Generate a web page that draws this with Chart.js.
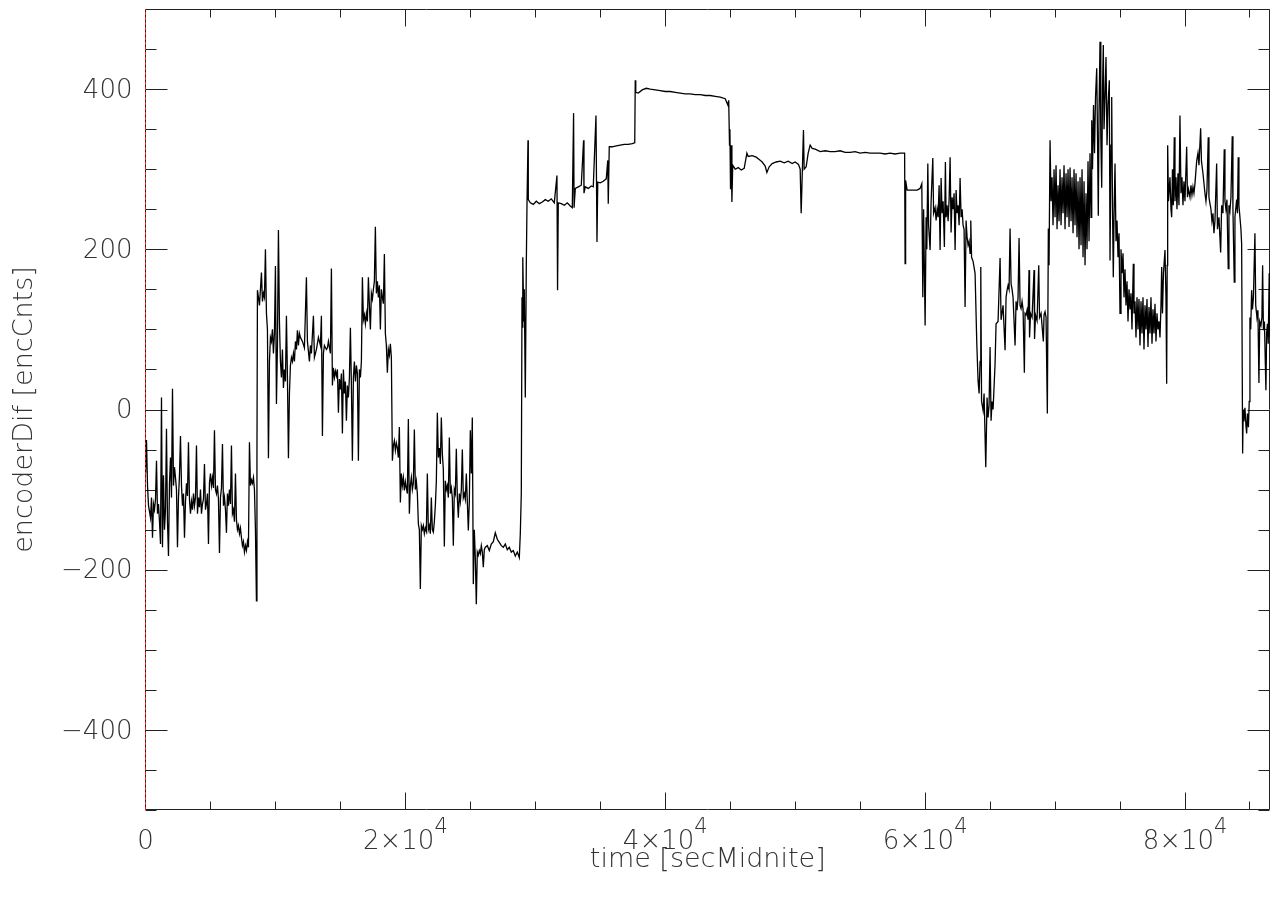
<!DOCTYPE html>
<html>
<head>
<meta charset="utf-8">
<script src="https://cdn.jsdelivr.net/npm/chart.js@4.4.0/dist/chart.umd.min.js"></script>
<style>
  html, body { margin: 0; padding: 0; background: #fff; }
  #wrap { width: 1276px; height: 898px; }
</style>
</head>
<body>
<div id="wrap"><canvas id="encChart" width="1276" height="898"></canvas></div>
<script>
// ─── DATA ─────────────────────────────────────────────────────────────────
// time of day in seconds after midnight
const timeSec = [
  0,77,154,231,385,462,538,615,692,769,
  846,923,1000,1077,1154,1230,1307,1384,1461,1538,
  1615,1692,1769,1846,1923,2000,2077,2154,2230,2307,
  2384,2461,2538,2615,2692,2769,2846,2923,3000,3077,
  3154,3230,3307,3384,3461,3538,3615,3692,3769,3846,
  3923,4000,4077,4154,4231,4307,4384,4461,4538,4615,
  4692,4769,4846,4923,5000,5077,5154,5230,5307,5384,
  5461,5538,5615,5692,5769,5846,5923,6000,6077,6154,
  6230,6307,6384,6461,6538,6615,6692,6769,6846,6923,
  7000,7077,7154,7230,7307,7384,7461,7538,7615,7692,
  7769,7846,7923,8000,8077,8154,8230,8307,8384,8461,
  8538,8577,8615,8692,8769,8846,8923,9000,9077,9154,
  9230,9307,9384,9461,9538,9615,9692,9769,9846,9923,
  10000,10077,10154,10230,10307,10384,10461,10538,10615,10692,
  10769,10846,10923,11000,11077,11153,11230,11307,11384,11461,
  11538,11615,11692,11769,11846,11923,12077,12230,12384,12461,
  12615,12692,12769,12923,13000,13154,13307,13461,13538,13615,
  13692,13769,13923,14000,14077,14230,14307,14384,14461,14538,
  14615,14692,14769,14846,14923,15000,15076,15153,15230,15307,
  15384,15461,15538,15615,15692,15769,15846,15922,15999,16076,
  16153,16230,16307,16384,16461,16538,16615,16692,16769,16845,
  16922,16999,17076,17153,17230,17307,17384,17461,17538,17614,
  17691,17768,17845,17922,17999,18076,18153,18230,18307,18384,
  18460,18537,18614,18691,18768,18845,18922,18999,19076,19153,
  19230,19306,19383,19460,19537,19614,19691,19768,19845,19922,
  19999,20076,20152,20229,20306,20383,20460,20537,20614,20691,
  20768,20845,20922,20999,21075,21152,21229,21306,21383,21460,
  21537,21614,21691,21768,21845,21921,21998,22075,22152,22229,
  22306,22383,22460,22537,22614,22691,22767,22844,22921,22998,
  23075,23152,23229,23306,23383,23460,23537,23613,23690,23767,
  23844,23921,23998,24075,24152,24229,24306,24383,24459,24536,
  24613,24690,24767,24844,24921,24998,25075,25151,25228,25305,
  25382,25459,25536,25613,25690,25767,25844,25921,25997,26074,
  26151,26305,26459,26613,26767,26920,27074,27228,27382,27536,
  27690,27843,27997,28151,28305,28459,28613,28767,28844,28921,
  28975,29020,29050,29114,29152,29229,29306,29360,29437,29460,
  29614,29845,30076,30306,30537,30768,30998,31229,31460,31665,
  31711,31768,31999,32229,32460,32691,32845,32945,32983,33076,
  33306,33537,33714,33745,33845,34076,34306,34460,34668,34745,
  34806,34999,35229,35460,35575,35614,35691,35922,36229,36537,
  36844,37152,37460,37652,37691,37729,37921,38229,38537,38845,
  39229,39614,39999,40383,40768,41152,41537,41921,42306,42691,
  43075,43460,43845,44229,44614,44822,44883,44945,44975,45022,
  45075,45129,45191,45383,45614,45845,46075,46283,46383,46690,
  46998,47229,47460,47690,47820,47998,48229,48536,48844,49152,
  49459,49767,49998,50252,50383,50459,50536,50636,50690,50844,
  50998,51152,51306,51536,51921,52306,52690,53075,53459,53844,
  54229,54613,54998,55383,55767,56152,56536,56921,57305,57690,
  58075,58421,58459,58498,58613,58998,59382,59613,59744,59821,
  59882,59998,60075,60129,60206,60267,60382,60459,60590,60651,
  60767,60844,60921,60998,61075,61151,61228,61305,61382,61482,
  61559,61613,61690,61767,61844,61921,61997,62074,62151,62228,
  62305,62382,62459,62536,62613,62690,62767,62844,62920,62997,
  63074,63151,63228,63305,63382,63459,63513,63574,63690,63843,
  63974,64074,64151,64228,64282,64343,64459,64536,64666,64766,
  64843,64920,64997,65074,65151,65228,65382,65459,65613,65767,
  65843,65997,66151,66228,66305,66382,66459,66536,66613,66690,
  66766,66920,66997,67074,67151,67228,67305,67382,67459,67536,
  67636,67689,67766,67843,67920,67997,68035,68112,68228,68382,
  68420,68497,68612,68743,68804,68920,69097,69151,69228,69305,
  69405,69482,69535,69613,69689,69766,69843,69920,69997,70074,
  70151,70228,70305,70382,70459,70535,70612,70689,70766,70843,
  70920,70997,71074,71151,71228,71305,71382,71458,71535,71612,
  71689,71766,71843,71920,71997,72074,72151,72228,72305,72381,
  72458,72535,72612,72689,72766,72820,72881,72958,73035,73112,
  73204,73266,73327,73381,73458,73520,73589,73651,73712,73766,
  73843,73920,73997,74074,74174,74228,74304,74358,74420,74481,
  74535,74612,74689,74766,74843,74920,74997,75073,75150,75227,
  75304,75381,75458,75535,75612,75689,75766,75843,75920,76020,
  76073,76150,76227,76304,76381,76458,76535,76612,76689,76766,
  76842,76919,76996,77073,77150,77227,77304,77381,77458,77535,
  77612,77689,77765,77842,77919,77996,78073,78150,78204,78265,
  78342,78458,78534,78588,78627,78665,78727,78842,78919,78973,
  79034,79096,79173,79227,79304,79381,79457,79534,79611,79688,
  79765,79842,79919,79996,80127,80188,80265,80380,80457,80534,
  80611,80688,80765,80896,80996,81073,81203,81265,81380,81534,
  81611,81688,81788,81842,81919,81996,82073,82150,82226,82303,
  82434,82496,82611,82742,82819,82919,83019,83073,83149,83226,
  83326,83380,83457,83534,83634,83688,83788,83842,83972,84034,
  84095,84149,84226,84303,84357,84434,84480,84534,84611,84688,
  84742,84803,84880,84942,84996,85057,85126,85188,85265,85380,
  85442,85534,85611,85688,85749,85842,85919,85972,86034,86111,
  86226,86280,86342,86403,86480,86534
];

// encoder difference in encoder counts
const encDif = [
  -80,-38,-95,-120,-135,-110,-160,-118,-125,-112,
  -64,-130,-118,-140,-168,15,-172,-82,-150,-125,
  -24,-140,-183,-92,-60,-110,26,-95,-72,-85,
  -100,-172,-110,-82,-33,-95,-120,-105,-160,-115,
  -92,-108,-41,-112,-130,-115,-125,-105,-120,-110,
  -45,-130,-110,-122,-100,-130,-118,-112,-68,-125,
  -118,-105,-168,-92,-80,-95,-85,-98,-26,-100,
  -105,-95,-112,-179,-110,-98,-43,-120,-110,-125,
  -154,-105,-120,-100,-118,-45,-130,-125,-140,-80,
  -138,-150,-145,-155,-148,-160,-170,-165,-178,-170,
  -176,-165,-172,-41,-95,-88,-92,-85,-100,-150,
  -239,-60,149,140,130,150,171,135,145,140,
  200,120,100,-61,60,90,85,100,70,95,
  179,7,80,224,110,60,40,75,27,50,
  35,117,40,-61,20,55,65,60,70,60,
  85,75,99,80,95,90,85,77,165,85,
  60,80,70,117,65,75,90,80,117,-33,
  70,80,75,77,85,70,176,30,52,40,
  48,42,50,-4,38,25,45,-30,50,20,
  35,-14,30,15,40,102,30,-64,40,60,
  35,55,45,-64,50,40,60,165,112,118,
  107,120,110,165,130,100,145,138,150,160,
  228,145,160,140,155,100,150,140,132,194,
  95,80,46,75,68,82,65,-64,-45,-39,
  -51,-42,-48,-60,-22,-116,-80,-95,-85,-101,
  -90,-98,-105,-12,-130,-95,-85,-100,-92,-25,
  -100,-90,-105,-143,-150,-224,-145,-150,-145,-155,
  -148,-152,-80,-150,-145,-155,-110,-150,-153,-140,
  -120,-90,-4,-60,-48,-68,-10,-55,-75,-171,
  -89,-100,-95,-110,-35,-105,-98,-110,-170,-100,
  -105,-49,-110,-135,-105,-115,-100,-50,-110,-105,
  -112,-80,-115,-151,-115,-26,-80,-10,-218,-150,
  -185,-243,-178,-182,-176,-180,-170,-178,-197,-175,
  -172,-170,-176,-168,-165,-154,-162,-166,-170,-172,
  -168,-175,-172,-178,-176,-183,-178,-185,-155,-105,
  140,102,190,110,150,15,180,258,336,262,
  258,256,260,257,259,262,260,263,258,292,
  149,258,257,255,258,254,252,370,252,276,
  278,280,336,270,278,276,279,278,367,209,
  284,283,285,288,311,257,328,328,329,330,
  331,331,332,333,411,396,395,399,401,400,
  399,398,397,397,396,395,394,394,393,393,
  392,392,391,390,388,380,386,330,350,275,
  330,259,305,300,302,299,301,320,316,317,
  315,312,309,304,296,303,307,309,310,308,
  310,307,309,306,300,245,290,349,300,303,
  320,330,326,325,322,323,322,322,323,321,
  321,322,320,321,320,320,320,319,320,319,
  320,320,182,286,274,274,274,276,282,140,
  250,105,240,200,307,230,199,260,314,245,
  252,236,250,240,280,199,289,245,260,203,
  309,240,255,235,262,315,221,265,250,270,
  199,274,245,255,230,289,240,250,230,225,
  128,236,215,205,210,195,236,190,185,170,
  83,36,20,60,178,10,-1,20,-72,15,
  -10,5,78,-14,10,0,57,107,110,189,
  112,130,74,140,149,155,150,226,157,150,
  140,80,135,124,140,214,130,126,135,125,
  46,120,118,124,112,174,90,120,115,174,
  88,118,111,180,115,120,85,118,122,115,
  -5,226,180,336,260,290,230,300,240,305,
  225,280,235,300,230,290,245,305,225,295,
  240,300,228,302,235,290,220,300,230,295,
  215,285,200,290,205,300,190,285,180,270,
  200,310,210,320,240,361,300,380,320,390,
  426,340,242,370,459,340,277,400,455,350,
  390,440,330,380,411,186,330,390,250,165,
  240,307,210,236,190,220,120,200,170,195,
  140,175,130,160,110,150,125,145,100,182,
  120,135,90,140,100,138,80,135,95,140,
  75,130,100,138,78,128,95,140,82,125,
  95,132,85,120,100,110,90,130,178,120,
  170,199,140,32,180,330,260,290,250,240,
  300,255,340,260,290,250,295,255,367,270,
  290,255,285,260,328,265,275,265,280,268,
  278,270,282,310,320,305,351,310,295,270,
  260,274,340,265,257,250,235,245,220,235,
  307,225,240,196,255,245,325,260,250,262,
  176,255,248,265,341,250,159,240,262,245,
  315,255,240,225,207,-55,0,-15,2,-20,
  -30,-5,-22,10,115,100,149,125,140,220,
  130,115,124,33,110,105,115,180,99,110,
  24,95,107,82,170,90
];

// red dashed reference line at t = 0
const markerTime = [0, 0];
const markerVal  = [-500, 500];

// axis ticks (x labels are mantissa × 10 with a raised exponent)
const xTickVals   = [0, 20000, 40000, 60000, 80000];
const xTickLabels = ['0', '2×10', '4×10', '6×10', '8×10'];
const xTickExps   = ['', '4', '4', '4', '4'];
const yTickVals   = [-400, -200, 0, 200, 400];
const yTickLabels = ['−400', '−200', '0', '200', '400'];
const xMinorStep = 5000;
const yMinorStep = 50;

const X_MIN = 0, X_MAX = 86540;
const Y_MIN = -500, Y_MAX = 500;

// ─── STYLE ────────────────────────────────────────────────────────────────
const FONT = "'DejaVu Sans', 'Open Sans', sans-serif";
const FONT_WEIGHT = 200;
const TEXT_COLOR = '#333';
const AXIS_COLOR = '#222';

// IDL style frame: box round the plot with inward ticks on all 4 sides
const idlFrame = {
    id: 'idlFrame',
    beforeDatasetsDraw(chart) {
        const { ctx, chartArea: a, scales: { x, y } } = chart;
        const L = Math.floor(a.left) + 0.5, R = Math.round(a.right) - 0.5;
        const T = Math.round(a.top) + 0.5, B = Math.round(a.bottom) - 0.5;
        ctx.save();
        ctx.strokeStyle = AXIS_COLOR;
        ctx.lineWidth = 1;
        ctx.beginPath();
        ctx.rect(L, T, R - L, B - T);

        for (let v = X_MIN; v <= X_MAX; v += xMinorStep) {
            const px = Math.floor(x.getPixelForValue(v)) + 0.5;
            const len = xTickVals.includes(v) ? 17 : 8;
            ctx.moveTo(px, B); ctx.lineTo(px, B - len);
            ctx.moveTo(px, T); ctx.lineTo(px, T + len);
        }
        for (let v = Y_MIN; v <= Y_MAX; v += yMinorStep) {
            const py = Math.round(y.getPixelForValue(v)) + 0.5;
            const len = yTickVals.includes(v) ? 22 : 11;
            ctx.moveTo(L, py); ctx.lineTo(L + len, py);
            ctx.moveTo(R, py); ctx.lineTo(R - len, py);
        }
        ctx.stroke();
        ctx.restore();
    },
    // x tick labels with a superscript power of ten
    afterDraw(chart) {
        const { ctx, chartArea: a, scales: { x } } = chart;
        const base = `${FONT_WEIGHT} 26px ${FONT}`;
        const sup  = `${FONT_WEIGHT} 21px ${FONT}`;
        const baseline = a.bottom + 39;
        ctx.save();
        ctx.fillStyle = TEXT_COLOR;
        ctx.textBaseline = 'alphabetic';
        ctx.textAlign = 'left';
        xTickVals.forEach((v, i) => {
            ctx.font = base;
            const w1 = ctx.measureText(xTickLabels[i]).width;
            ctx.font = sup;
            const w2 = xTickExps[i] ? ctx.measureText(xTickExps[i]).width : 0;
            const x0 = x.getPixelForValue(v) - (w1 + w2) / 2;
            ctx.font = base;
            ctx.fillText(xTickLabels[i], x0, baseline);
            if (xTickExps[i]) {
                ctx.font = sup;
                ctx.fillText(xTickExps[i], x0 + w1, baseline - 16);
            }
        });
        ctx.restore();
    }
};

const ctx = document.getElementById('encChart').getContext('2d');

new Chart(ctx, {
    type: 'line',
    data: {
        datasets: [
            {
                label: 't0',
                data: markerTime.map((t, i) => ({ x: t, y: markerVal[i] })),
                borderColor: '#ff1a1a',
                borderWidth: 1,
                borderDash: [3, 2],
                pointRadius: 0,
                clip: false
            },
            {
                label: 'encoderDif',
                data: timeSec.map((t, i) => ({ x: t, y: encDif[i] })),
                borderColor: '#000',
                borderWidth: 1.3,
                pointRadius: 0,
                tension: 0
            }
        ]
    },
    options: {
        responsive: false,
        animation: false,
        devicePixelRatio: 1,
        layout: { padding: { top: 9, right: 6, left: 0, bottom: 0 } },
        plugins: { legend: { display: false }, tooltip: { enabled: false } },
        scales: {
            x: {
                type: 'linear',
                min: X_MIN, max: X_MAX,
                grid: { display: false, drawTicks: false },
                border: { display: false },
                afterBuildTicks: s => { s.ticks = xTickVals.map(v => ({ value: v })); },
                afterFit: s => { s.height = 88; s.paddingLeft = 0; s.paddingRight = 0; },
                ticks: { display: false },
                title: {
                    display: true,
                    text: 'time [secMidnite]',
                    color: TEXT_COLOR,
                    font: { family: FONT, size: 27, weight: FONT_WEIGHT },
                    padding: { top: 0, bottom: 22 }
                }
            },
            y: {
                min: Y_MIN, max: Y_MAX,
                grid: { display: false, drawTicks: false },
                border: { display: false },
                afterBuildTicks: s => { s.ticks = yTickVals.map(v => ({ value: v })); },
                afterFit: s => { s.width = 145.5; s.paddingTop = 0; s.paddingBottom = 0; },
                ticks: {
                    padding: 13,
                    labelOffset: 2,
                    autoSkip: false,
                    color: TEXT_COLOR,
                    font: { family: FONT, size: 26, weight: FONT_WEIGHT },
                    callback: v => yTickLabels[yTickVals.indexOf(v)]
                },
                title: {
                    display: true,
                    text: 'encoderDif [encCnts]',
                    color: TEXT_COLOR,
                    font: { family: FONT, size: 27, weight: FONT_WEIGHT },
                    padding: { top: 9, bottom: 0 }
                }
            }
        }
    },
    plugins: [idlFrame]
});
</script>
</body>
</html>
